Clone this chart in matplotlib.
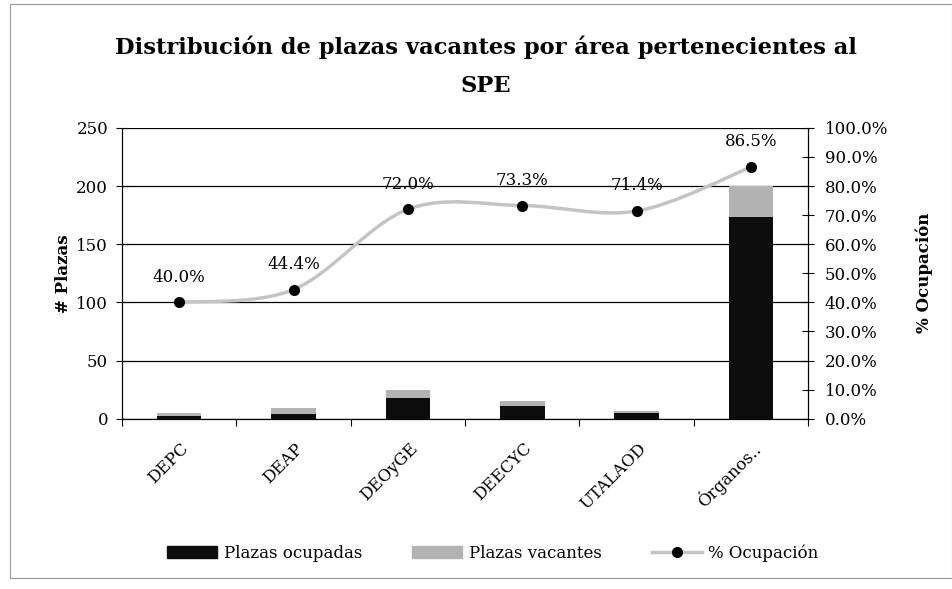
import numpy as np
import matplotlib.pyplot as plt
import matplotlib.transforms as mtransforms
from matplotlib.path import Path
from matplotlib.patches import PathPatch, Rectangle, Patch
from matplotlib.lines import Line2D

# datos
areas = ['DEPC', 'DEAP', 'DEOyGE', 'DEECYC', 'UTALAOD', 'Órganos..']
ocupadas = [2, 4, 18, 11, 5, 173]
vacantes = [3, 5, 7, 4, 2, 27]
ocupacion = [40.0, 44.4, 72.0, 73.3, 71.4, 86.5]

plt.rcParams['font.family'] = ['DejaVu Serif']
FS = 12

fig = plt.figure(figsize=(9.53, 5.89), dpi=100)
ax = fig.add_axes([0.128, 0.289, 0.72, 0.494])
ax2 = ax.twinx()

x = np.arange(len(areas))
ax.bar(x, ocupadas, width=0.39, color='#0d0d0d', zorder=2)
ax.bar(x, vacantes, width=0.39, bottom=ocupadas, color='#b3b3b3', zorder=2)

ax.set_xlim(-0.5, len(areas) - 0.5)
ax.set_ylim(0, 250)
ax.set_yticks(range(0, 251, 50))
ax.grid(axis='y', color='black', linewidth=0.9, zorder=0)
ax.set_axisbelow(True)

# ticks en los limites de categoria, etiquetas en el centro
ax.set_xticks(np.arange(-0.5, len(areas), 1.0))
ax.set_xticklabels([])
ax.set_xticks(x, minor=True)
ax.set_xticklabels(areas, minor=True, rotation=45, ha='right', va='center',
                   rotation_mode='anchor', fontsize=FS)
ax.tick_params(axis='x', which='minor', length=0, pad=0)
ax.tick_params(axis='x', which='major', direction='out', length=5)
offset = mtransforms.ScaledTranslation(0.07, -0.27, fig.dpi_scale_trans)
for lbl in ax.get_xticklabels(minor=True):
    lbl.set_transform(lbl.get_transform() + offset)

ax.tick_params(axis='y', labelsize=FS, direction='inout', length=8, pad=6)
ax.set_ylabel('# Plazas', fontsize=FS, fontweight='bold', labelpad=3)
ax.spines['top'].set_visible(False)

ax2.set_ylim(0, 100)
ax2.set_yticks(range(0, 101, 10))
ax2.set_yticklabels([f'{v:.1f}%' for v in range(0, 101, 10)])
ax2.tick_params(axis='y', labelsize=FS, direction='inout', length=8, pad=8)
ax2.set_ylabel('% Ocupación', fontsize=FS, fontweight='bold', labelpad=20)
ax2.spines['top'].set_visible(False)

# curva suavizada (Catmull-Rom -> Bezier)
pts = np.column_stack([x, ocupacion])
verts = [tuple(pts[0])]
codes = [Path.MOVETO]
for i in range(len(pts) - 1):
    p0 = pts[max(i - 1, 0)]
    p1 = pts[i]
    p2 = pts[i + 1]
    p3 = pts[min(i + 2, len(pts) - 1)]
    c1 = p1 + (p2 - p0) / 6
    c2 = p2 - (p3 - p1) / 6
    verts += [tuple(c1), tuple(c2), tuple(p2)]
    codes += [Path.CURVE4] * 3
ax2.add_patch(PathPatch(Path(verts, codes), facecolor='none', edgecolor='#c4c4c4',
                        linewidth=2.5, zorder=3))
ax2.plot(x, ocupacion, 'o', color='black', markersize=7, zorder=4)
for xi, v in zip(x, ocupacion):
    ax2.annotate(f'{v:.1f}%', (xi, v), xytext=(0, 12), textcoords='offset points',
                 ha='center', va='bottom', fontsize=FS)

fig.suptitle('Distribución de plazas vacantes por área pertenecientes al\nSPE',
             x=0.51, y=0.94, fontsize=16.3, fontweight='bold', linespacing=1.95)

handles = [Patch(color='#0d0d0d'), Patch(color='#b3b3b3'),
           Line2D([], [], color='#c4c4c4', linewidth=2.5, marker='o',
                  markerfacecolor='black', markeredgecolor='black', markersize=7)]
fig.legend(handles, ['Plazas ocupadas', 'Plazas vacantes', '% Ocupación'],
           loc='center', bbox_to_anchor=(0.517, 0.061), ncol=3, frameon=False,
           fontsize=FS, columnspacing=3.0, handlelength=3.0, handletextpad=0.4)

fig.add_artist(Rectangle((0.0105, 0.0187), 0.9885, 0.974, transform=fig.transFigure,
                         fill=False, edgecolor='#999999', linewidth=0.8))

fig.savefig('out.png', dpi=100)
